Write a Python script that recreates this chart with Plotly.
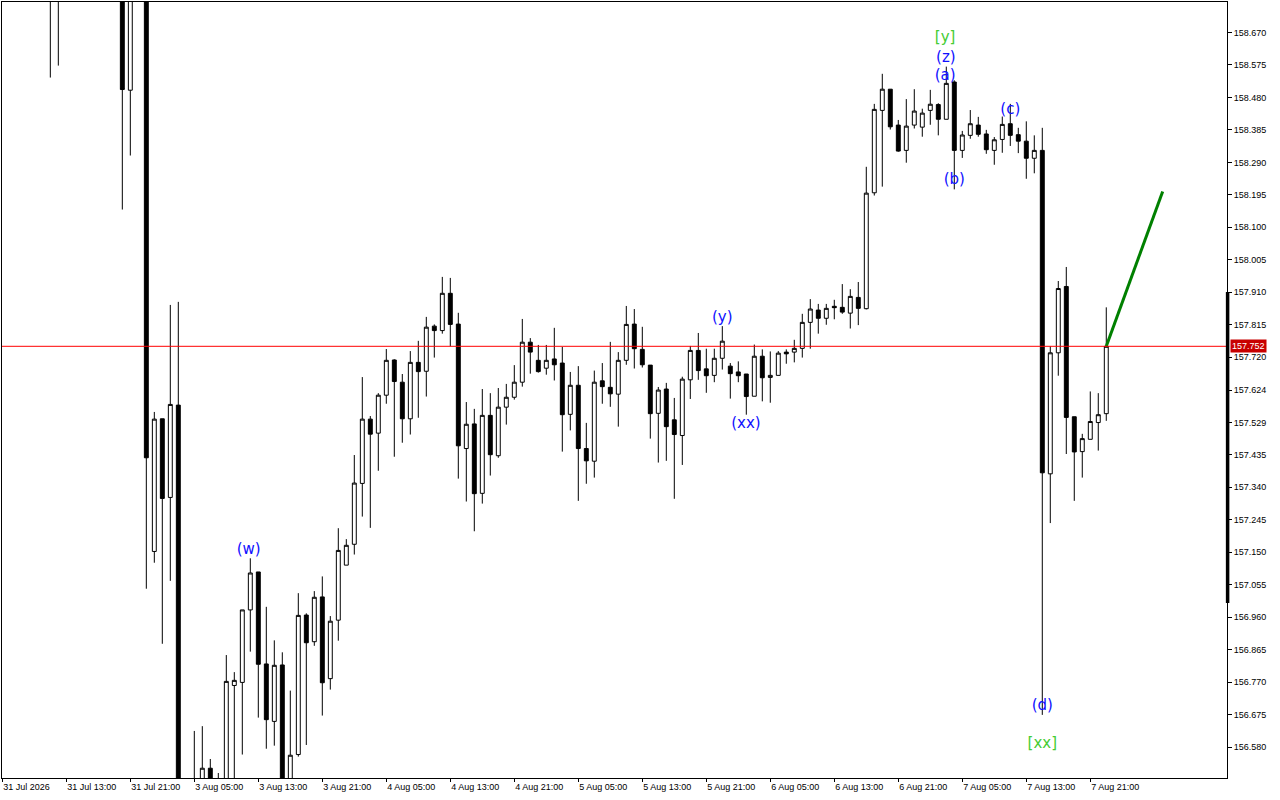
import plotly.graph_objects as go

# ---------------- data ----------------
open_ = [159.10, 159.05, 158.98, 159.02, 158.96, 158.88, 158.92, 158.84, 158.89, 158.94,
         158.99, 158.95, 158.88, 158.92, 158.97, 158.91, 158.501, 158.93, 158.95, 157.152,
         157.540, 157.310, 157.580, 156.44, 156.40, 156.45, 156.518, 156.46, 156.44, 156.760,
         156.769, 156.981, 157.092, 156.823, 156.655, 156.820, 156.45, 156.558, 156.966, 156.888,
         157.019, 156.780, 156.951, 157.112, 157.173, 157.351, 157.539, 157.498, 157.609, 157.712,
         157.647, 157.540, 157.705, 157.679, 157.811, 157.798, 157.907, 157.817, 157.453, 157.525,
         157.322, 157.550, 157.432, 157.574, 157.603, 157.647, 157.764, 157.711, 157.688, 157.715,
         157.703, 157.553, 157.638, 157.453, 157.416, 157.651, 157.632, 157.612, 157.711, 157.817,
         157.743, 157.697, 157.556, 157.627, 157.537, 157.491, 157.654, 157.740, 157.686, 157.667,
         157.717, 157.694, 157.677, 157.671, 157.606, 157.723, 157.661, 157.667, 157.735, 157.735,
         157.746, 157.822, 157.858, 157.834, 157.869, 157.866, 157.849, 157.895, 157.862, 158.201,
         158.442, 158.504, 158.399, 158.325, 158.399, 158.393, 158.442, 158.459, 158.416, 158.525,
         158.325, 158.369, 158.399, 158.373, 158.325, 158.357, 158.403, 158.371, 158.352, 158.302,
         158.325, 157.379, 157.733, 157.927, 157.546, 157.444, 157.480, 157.529, 157.555]
high_ = [159.18, 159.12, 159.06, 159.10, 159.01, 158.97, 158.99, 158.93, 158.98, 159.03,
         159.06, 159.00, 158.96, 159.02, 159.05, 158.95, 158.98, 159.02, 159.00, 157.560,
         157.540, 157.873, 157.882, 156.47, 156.627, 156.641, 156.545, 156.504, 156.849, 156.799,
         156.981, 157.132, 157.092, 156.990, 156.892, 156.857, 156.745, 157.030, 156.971, 157.036,
         157.079, 156.963, 157.220, 157.188, 157.434, 157.662, 157.548, 157.615, 157.744, 157.714,
         157.671, 157.738, 157.768, 157.838, 157.816, 157.955, 157.952, 157.850, 157.589, 157.569,
         157.627, 157.615, 157.630, 157.642, 157.697, 157.832, 157.776, 157.756, 157.756, 157.806,
         157.750, 157.677, 157.694, 157.528, 157.681, 157.703, 157.765, 157.735, 157.870, 157.861,
         157.809, 157.697, 157.633, 157.645, 157.601, 157.663, 157.753, 157.791, 157.745, 157.745,
         157.811, 157.703, 157.708, 157.671, 157.757, 157.743, 157.737, 157.738, 157.743, 157.771,
         157.847, 157.890, 157.876, 157.876, 157.888, 157.934, 157.919, 157.940, 158.277, 158.461,
         158.549, 158.504, 158.414, 158.475, 158.504, 158.447, 158.502, 158.463, 158.570, 158.530,
         158.382, 158.443, 158.423, 158.385, 158.364, 158.424, 158.461, 158.391, 158.410, 158.369,
         158.391, 157.752, 157.943, 157.984, 157.546, 157.496, 157.620, 157.615, 157.866]
low_ = [159.02, 158.95, 158.90, 158.93, 158.85, 158.80, 158.538, 158.573, 158.80, 158.87,
        158.91, 158.84, 158.80, 158.85, 158.88, 158.152, 158.310, 158.80, 157.043, 157.119,
        156.882, 157.066, 156.40, 156.36, 156.35, 156.42, 156.43, 156.40, 156.42, 156.47,
        156.558, 156.859, 156.666, 156.575, 156.584, 156.40, 156.43, 156.552, 156.586, 156.876,
        156.672, 156.748, 156.891, 157.112, 157.143, 157.254, 157.221, 157.388, 157.584, 157.429,
        157.470, 157.494, 157.543, 157.605, 157.719, 157.789, 157.752, 157.365, 157.298, 157.211,
        157.292, 157.374, 157.426, 157.523, 157.596, 157.634, 157.672, 157.675, 157.669, 157.652,
        157.444, 157.506, 157.300, 157.350, 157.368, 157.584, 157.575, 157.517, 157.698, 157.687,
        157.690, 157.482, 157.412, 157.417, 157.306, 157.405, 157.598, 157.654, 157.616, 157.647,
        157.684, 157.599, 157.647, 157.552, 157.606, 157.591, 157.587, 157.667, 157.701, 157.705,
        157.719, 157.745, 157.789, 157.815, 157.831, 157.847, 157.804, 157.814, 157.860, 158.193,
        158.219, 158.386, 158.321, 158.289, 158.389, 158.365, 158.400, 158.369, 158.416, 158.211,
        158.303, 158.359, 158.365, 158.315, 158.283, 158.318, 158.338, 158.317, 158.242, 158.258,
        156.674, 157.235, 157.666, 157.437, 157.300, 157.368, 157.480, 157.447, 157.534]
close_ = [159.05, 158.98, 159.02, 158.96, 158.88, 158.92, 158.84, 158.89, 158.94, 158.99,
          158.95, 158.88, 158.92, 158.97, 158.91, 158.503, 158.93, 158.95, 157.426, 157.539,
          157.307, 157.582, 156.44, 156.40, 156.45, 156.518, 156.46, 156.44, 156.772, 156.775,
          156.981, 157.089, 156.822, 156.660, 156.819, 156.45, 156.556, 156.965, 156.885, 157.018,
          156.768, 156.948, 157.155, 157.170, 157.352, 157.539, 157.495, 157.609, 157.711, 157.649,
          157.540, 157.705, 157.678, 157.808, 157.798, 157.907, 157.816, 157.461, 157.524, 157.321,
          157.550, 157.435, 157.574, 157.603, 157.647, 157.764, 157.735, 157.678, 157.711, 157.698,
          157.552, 157.638, 157.453, 157.417, 157.647, 157.634, 157.613, 157.711, 157.816, 157.745,
          157.698, 157.555, 157.624, 157.517, 157.494, 157.656, 157.740, 157.681, 157.666, 157.717,
          157.767, 157.672, 157.666, 157.605, 157.723, 157.660, 157.667, 157.732, 157.730, 157.746,
          157.822, 157.861, 157.834, 157.863, 157.865, 157.852, 157.898, 157.863, 158.200, 158.445,
          158.504, 158.394, 158.323, 158.396, 158.440, 158.434, 158.460, 158.416, 158.521, 158.325,
          158.370, 158.403, 158.372, 158.327, 158.356, 158.401, 158.369, 158.352, 158.302, 158.325,
          157.382, 157.733, 157.921, 157.544, 157.443, 157.482, 157.532, 157.552, 157.752]
bar_index = list(range(len(close_)))

time_tick_index = list(range(0, 137, 8))
time_tick_text = ["31 Jul 2026", "31 Jul 13:00", "31 Jul 21:00", "3 Aug 05:00", "3 Aug 13:00",
                  "3 Aug 21:00", "4 Aug 05:00", "4 Aug 13:00", "4 Aug 21:00", "5 Aug 05:00",
                  "5 Aug 13:00", "5 Aug 21:00", "6 Aug 05:00", "6 Aug 13:00", "6 Aug 21:00",
                  "7 Aug 05:00", "7 Aug 13:00", "7 Aug 21:00"]

price_tick_vals = [158.670, 158.575, 158.480, 158.385, 158.290, 158.195, 158.100, 158.005,
                   157.910, 157.815, 157.720, 157.624, 157.529, 157.435, 157.340, 157.245,
                   157.150, 157.055, 156.960, 156.865, 156.770, 156.675, 156.580]
price_tick_text = ["%.3f" % v for v in price_tick_vals]

current_price = 157.752
range_bar = [157.001, 157.911]

proj_x = [138, 145.05]
proj_y = [157.752, 158.205]

wave_text = ["[y]", "(z)", "(a)", "(b)", "(c)", "(y)", "(xx)", "(w)", "(d)", "[xx]"]
wave_x = [117.85, 117.95, 117.85, 119, 126, 90, 92.95, 30.8, 130, 130]
wave_y = [158.654, 158.595, 158.543, 158.239, 158.443, 157.835, 157.525, 157.156, 156.700, 156.589]
wave_level = ["major", "minor", "minor", "minor", "minor", "minor", "minor", "minor", "minor", "major"]

# ---------------- figure ----------------
level_color = {"major": "#44CC33", "minor": "#1010FF"}

fig = go.Figure()
fig.add_trace(go.Candlestick(
    x=bar_index, open=open_, high=high_, low=low_, close=close_,
    increasing=dict(line=dict(color="black", width=1), fillcolor="white"),
    decreasing=dict(line=dict(color="black", width=1), fillcolor="black"),
    whiskerwidth=0, hoverinfo="skip", showlegend=False,
))
fig.add_trace(go.Scatter(
    x=proj_x, y=proj_y, mode="lines",
    line=dict(color="#008000", width=3), hoverinfo="skip", showlegend=False,
))
fig.add_trace(go.Scatter(
    x=wave_x, y=wave_y, mode="text", text=wave_text, textposition="middle center",
    textfont=dict(family="DejaVu Sans", size=15, color=[level_color[l] for l in wave_level]),
    hoverinfo="skip", showlegend=False, cliponaxis=False,
))

fig.add_shape(type="line", xref="paper", yref="y", x0=0, x1=1,
              y0=current_price, y1=current_price, line=dict(color="#FF0000", width=1))
fig.add_shape(type="line", xref="paper", yref="y", x0=1.0005, x1=1.0005,
              y0=range_bar[0], y1=range_bar[1], line=dict(color="black", width=3.5))

fig.add_annotation(xref="paper", yref="y", x=1, y=current_price, xanchor="left", yanchor="middle",
                   xshift=3, text=f"{current_price:.3f}", showarrow=False,
                   font=dict(family="Liberation Sans", size=9, color="white"),
                   bgcolor="#C80000", borderpad=1)

axis_font = dict(family="Liberation Sans", size=9, color="black")
fig.update_layout(
    template="none",
    width=1280, height=800,
    margin=dict(l=2, r=53, t=2, b=22, pad=0),
    paper_bgcolor="white", plot_bgcolor="white",
    showlegend=False,
    hovermode=False,
    xaxis=dict(
        range=[-0.04, 153.09], rangeslider=dict(visible=False),
        tickmode="array", tickvals=time_tick_index, ticktext=time_tick_text,
        ticks="outside", ticklen=3, tickcolor="black", tickwidth=1,
        ticklabelposition="outside right",
        showgrid=False, zeroline=False, showline=True, mirror=True,
        linecolor="black", linewidth=1, tickfont=axis_font, automargin=False,
    ),
    yaxis=dict(
        range=[156.4894, 158.759], side="right",
        tickmode="array", tickvals=price_tick_vals, ticktext=price_tick_text,
        ticks="outside", ticklen=4, tickcolor="black", tickwidth=1,
        showgrid=False, zeroline=False, showline=True, mirror=True,
        linecolor="black", linewidth=1, tickfont=axis_font, automargin=False,
    ),
)

fig.write_html("out.html", config={"displayModeBar": False},
               post_script="document.body.style.margin='0';document.body.style.overflow='hidden';")
